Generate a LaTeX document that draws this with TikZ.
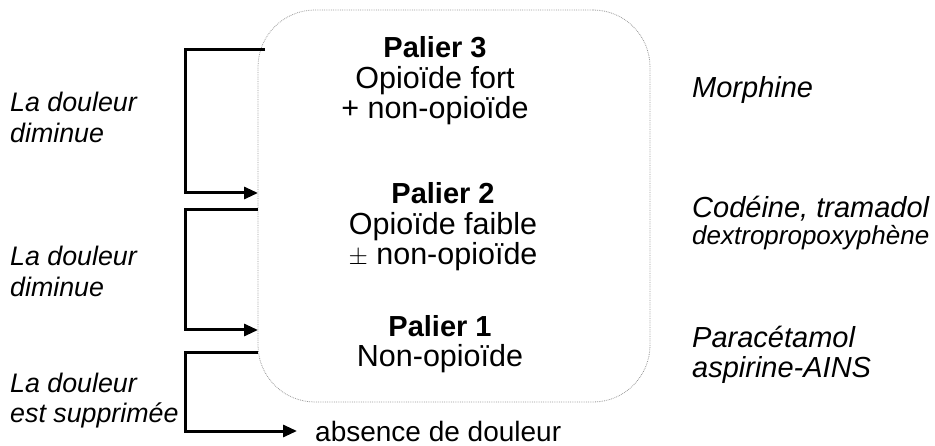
\documentclass[tikz,border=0pt]{standalone}
\usepackage{fontspec}
\setmainfont{Liberation Sans}
\usetikzlibrary{arrows.meta}
\newcommand{\titrepalier}[1]{{\bfseries\fontsize{29}{30.5}\selectfont #1}}
\begin{document}
\begin{tikzpicture}[x=1pt,y=-1pt,
    palier/.style ={draw=gray!80, densely dotted, line width=0.8pt, rounded corners=57pt,
                    minimum width=392pt, minimum height=392pt},
    etape/.style ={font=\fontsize{30.5}{30.5}\selectfont, align=center, anchor=base, inner sep=0pt},
    medoc/.style ={font=\fontsize{29}{30}\selectfont\itshape, align=left, anchor=base west, inner sep=0pt},
    effet/.style ={font=\fontsize{26.8}{31}\selectfont\itshape, align=left, anchor=base west, inner sep=0pt},
    fleche/.style ={line width=3pt, -{Triangle[length=14pt,width=12pt]}}]
   \useasboundingbox (0,0) rectangle (935,446);
   \node[palier] (box) at (454,206) {};

   \node[etape] (P3) at (435,119) {\titrepalier{Palier 3}\\Opioïde fort\\+ non-opioïde};
   \node[etape] (P2) at (443,265) {\titrepalier{Palier 2}\\Opioïde faible\\$\pm$ non-opioïde};
   \node[etape] (P1) at (440,367) {\titrepalier{Palier 1}\\Non-opioïde};

   \node[medoc] (M3) at (692,98)  {Morphine};
   \node[medoc] (M2) at (692,218) {Codéine, tramadol};
   \node[medoc, font=\fontsize{26}{30}\selectfont\itshape] (M2b) at (692,245) {dextropropoxyphène};
   \node[medoc] (M1) at (692,378) {Paracétamol\\aspirine-AINS};

   \node[effet] (D3) at (10,143) {La douleur\\diminue};
   \node[effet] (D2) at (10,297) {La douleur\\diminue};
   \node[effet] (D1) at (10,423) {La douleur\\est supprimée};

   \node[font=\fontsize{28}{31}\selectfont, anchor=west, inner xsep=18pt, inner ysep=0pt]
        (fin) at (297,431) {absence de douleur};

   \coordinate (rail) at (185,0);
   \coordinate (d3) at (265,50);
   \coordinate (a3) at (258,193);
   \coordinate (d2) at (258,210);
   \coordinate (a2) at (258,330);
   \coordinate (d1) at (258,353);

   \draw[fleche] (d3) -- (d3 -| rail) |- (a3);
   \draw[fleche] (d2) -- (d2 -| rail) |- (a2);
   \draw[fleche] (d1) -- (d1 -| rail) |- (fin.west);
 \end{tikzpicture}
\end{document}
